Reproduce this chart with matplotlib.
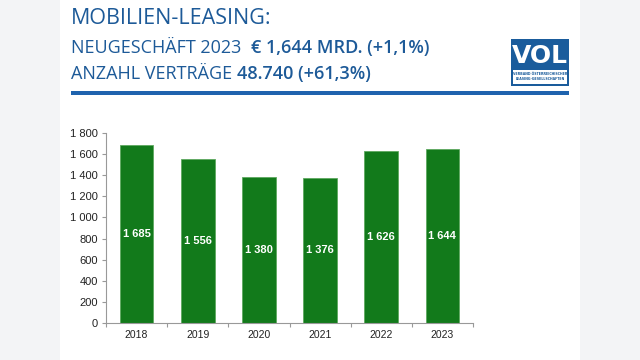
import matplotlib.pyplot as plt
import matplotlib.patches as mpatches

years = ["2018", "2019", "2020", "2021", "2022", "2023"]
volume = [1685, 1556, 1380, 1376, 1626, 1644]
value_labels = ["1 685", "1 556", "1 380", "1 376", "1 626", "1 644"]
y_ticks = [0, 200, 400, 600, 800, 1000, 1200, 1400, 1600, 1800]
y_tick_labels = ["0", "200", "400", "600", "800", "1 000", "1 200", "1 400", "1 600", "1 800"]

W, H = 640, 360
BLUE = "#1d5a98"
GREEN = "#127a1b"

fig = plt.figure(figsize=(6.4, 3.6), dpi=100)
fig.patch.set_facecolor("#f3f4f6")

def fx(px):
    return px / W

def fy(py):
    return 1 - py / H

# white panel
fig.patches.append(mpatches.Rectangle((fx(60), 0), fx(520), 1, transform=fig.transFigure,
                                      facecolor="white", edgecolor="none", zorder=-5))

# header text
title_font = "Open Sans"
fig.text(fx(71), fy(24), "MOBILIEN-LEASING:", color=BLUE, fontsize=15.5, family=title_font,
         va="baseline", ha="left")

fig.canvas.draw()
renderer = fig.canvas.get_renderer()

def two_part(y, a, b, size):
    t1 = fig.text(fx(71), fy(y), a, color=BLUE, fontsize=size, family=title_font,
                  va="baseline", ha="left")
    ext = t1.get_window_extent(renderer)
    fig.text(ext.x1 / W, fy(y), b, color=BLUE, fontsize=size, family=title_font,
             fontweight="semibold", va="baseline", ha="left")

two_part(53, "NEUGESCHÄFT 2023  ", "€ 1,644 MRD. (+1,1%)", 13)
two_part(79, "ANZAHL VERTRÄGE ", "48.740 (+61,3%)", 13)

# blue rule
fig.patches.append(mpatches.Rectangle((fx(71), fy(95)), fx(498), 4 / H,
                                      transform=fig.transFigure, facecolor="#1f63ae",
                                      edgecolor="none"))

# logo
fig.patches.append(mpatches.Rectangle((fx(511), fy(86)), fx(58), 47 / H,
                                      transform=fig.transFigure, facecolor="#1a5c9c",
                                      edgecolor="none"))
fig.text(fx(540), fy(63), "VOL", color="white", fontsize=18, fontweight="bold",
         family="DejaVu Sans", ha="center", va="baseline")
fig.patches.append(mpatches.Rectangle((fx(513), fy(84)), fx(54), 14 / H,
                                      transform=fig.transFigure, facecolor="white",
                                      edgecolor="none"))
fig.text(fx(540), fy(74), "VERBAND ÖSTERREICHISCHER", color="#1a5c9c", fontsize=2.3,
         ha="center", va="center", fontweight="bold")
fig.text(fx(540), fy(79), "LEASING-GESELLSCHAFTEN", color="#1a5c9c", fontsize=2.3,
         ha="center", va="center", fontweight="bold")

# chart
ax = fig.add_axes([fx(106), fy(323), fx(367), (323 - 133) / H])
ax.set_zorder(5)
ax.set_facecolor("none")
x = list(range(len(years)))
ax.bar(x, volume, width=0.55, color=GREEN, edgecolor="#5da85f", linewidth=0.6, zorder=2)
for xi, v, lab in zip(x, volume, value_labels):
    ax.text(xi, v / 2, lab, color="white", fontsize=8, fontweight="bold",
            family="Liberation Sans", ha="center", va="center", zorder=3)

ax.set_xlim(-0.5, len(years) - 0.5)
ax.set_ylim(0, 1800)
ax.set_yticks(y_ticks)
ax.set_yticklabels(y_tick_labels, family="Liberation Sans", fontsize=8, color="#222222")
ax.set_xticks([i + 0.5 for i in range(-1, len(years))])
ax.set_xticklabels([""] * (len(years) + 1))
ax.set_xticks(x, minor=True)
ax.set_xticklabels(years, minor=True, family="Liberation Sans", fontsize=7.5, color="#222222")
ax.tick_params(axis="x", which="minor", length=0, pad=5)
ax.tick_params(axis="x", which="major", length=3, color="#999999")
ax.tick_params(axis="y", length=3, color="#999999", pad=3)
for s in ["top", "right"]:
    ax.spines[s].set_visible(False)
for s in ["left", "bottom"]:
    ax.spines[s].set_color("#999999")
    ax.spines[s].set_linewidth(0.8)

fig.savefig("out.png", dpi=100, facecolor=fig.get_facecolor())
